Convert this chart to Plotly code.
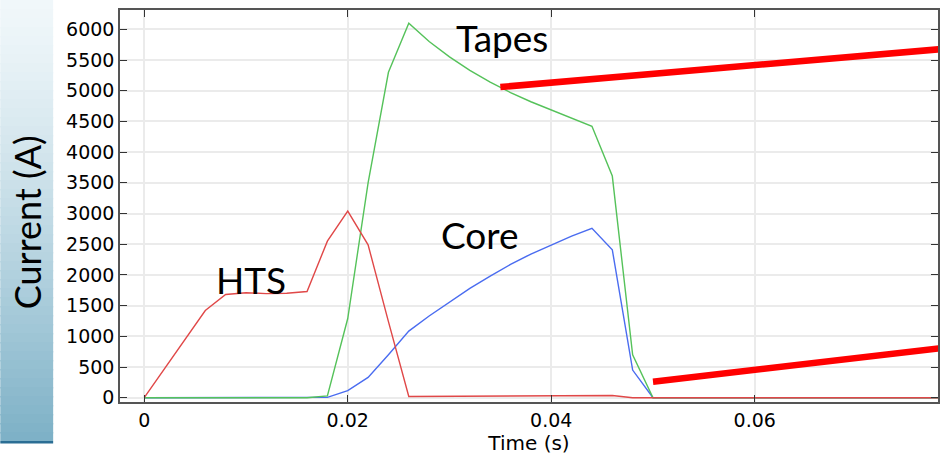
import plotly.graph_objects as go

# ---- data ----
hts_t = [0, 0.006, 0.008, 0.010, 0.012, 0.014, 0.016, 0.018, 0.020, 0.022, 0.024, 0.026, 0.046, 0.048, 0.080]
hts_i = [0, 1420, 1680, 1710, 1695, 1700, 1730, 2550, 3040, 2490, 1240, 20, 35, 0, 0]

tapes_t = [0, 0.016, 0.018, 0.020, 0.022, 0.024, 0.026, 0.028, 0.030, 0.032, 0.034, 0.036, 0.038,
           0.040, 0.042, 0.044, 0.046, 0.048, 0.050, 0.080]
tapes_i = [0, 0, 30, 1290, 3500, 5300, 6100, 5800, 5550, 5330, 5140, 4970, 4820,
           4690, 4560, 4420, 3610, 700, 0, 0]

core_t = [0, 0.016, 0.018, 0.020, 0.022, 0.024, 0.026, 0.028, 0.030, 0.032, 0.034, 0.036, 0.038,
          0.040, 0.042, 0.044, 0.046, 0.048, 0.050, 0.080]
core_i = [0, 0, 5, 115, 330, 700, 1085, 1330, 1560, 1780, 1980, 2170, 2340,
          2490, 2630, 2760, 2410, 450, 0, 0]

x_ticks = [0, 0.02, 0.04, 0.06]
x_tick_labels = ["0", "0.02", "0.04", "0.06"]
y_ticks = list(range(0, 6001, 500))

labels = [("Tapes", 0.0352, 5860), ("Core", 0.0330, 2650), ("HTS", 0.0105, 1930)]
# red pointer lines (t0, i0, t1, i1)
pointers = [(0.0350, 5060, 0.0785, 5680), (0.0500, 260, 0.0785, 810)]

# ---- figure ----
W, H = 940, 457
ML, MR, MT, MB = 120, 0, 10, 55
PW, PH = W - ML - MR, H - MT - MB

def px_x(p):
    return (p - ML) / PW

def px_y(p):
    return (H - MB - p) / PH

fig = go.Figure()
fig.add_trace(go.Scatter(x=core_t, y=core_i, mode="lines", line=dict(color="#4a6cf0", width=1.4),
                         name="Core", showlegend=False))
fig.add_trace(go.Scatter(x=tapes_t, y=tapes_i, mode="lines", line=dict(color="#55c25a", width=1.4),
                         name="Tapes", showlegend=False))
fig.add_trace(go.Scatter(x=hts_t, y=hts_i, mode="lines", line=dict(color="#e04848", width=1.4),
                         name="HTS", showlegend=False))

shapes = []
# left gradient panel
n = 49
top = (240, 247, 250)
bot = (124, 176, 198)
panel_bottom = 441
for k in range(n):
    y0 = panel_bottom * k / n
    y1 = min(panel_bottom, panel_bottom * (k + 1) / n + 1.5)
    f = ((k + 0.5) / n) ** 1.3
    c = tuple(int(round(top[j] + (bot[j] - top[j]) * f)) for j in range(3))
    shapes.append(dict(type="rect", xref="paper", yref="paper",
                       x0=px_x(0), x1=px_x(53), y0=px_y(y1), y1=px_y(y0),
                       fillcolor="rgb(%d,%d,%d)" % c, line=dict(width=0), layer="below"))
shapes.append(dict(type="rect", xref="paper", yref="paper",
                   x0=px_x(0), x1=px_x(53), y0=px_y(443.5), y1=px_y(441),
                   fillcolor="#2b6e94", line=dict(width=0), layer="below"))

for (a, b, c, d) in pointers:
    shapes.append(dict(type="line", xref="x", yref="y", x0=a, y0=b, x1=c, y1=d,
                       line=dict(color="#ff0000", width=6.5)))

annotations = []
for (txt, tx, ty) in labels:
    annotations.append(dict(x=tx, y=ty, xref="x", yref="y", text=txt, showarrow=False,
                            font=dict(family="Lato", size=37, color="black"),
                            xanchor="center", yanchor="middle"))
annotations.append(dict(x=px_x(27), y=px_y(222), xref="paper", yref="paper", text="Current (A)",
                        showarrow=False, textangle=-90,
                        font=dict(family="Lato", size=36, color="black"),
                        xanchor="center", yanchor="middle"))

x_lo = (ML - 144.3) / 10200
x_hi = (W - MR - 144.3) / 10200
y_scale = 6000 / (397.7 - 29.3)
y_hi = (397.7 - MT) * y_scale
y_lo = (397.7 - (H - MB)) * y_scale

axis_common = dict(showline=True, linecolor="#555555", linewidth=1.5, mirror="ticks",
                   ticks="inside", ticklen=7, tickcolor="#333333", tickwidth=1.3,
                   showgrid=True, gridcolor="#ebebeb", gridwidth=1.6, zeroline=False,
                   tickfont=dict(family="DejaVu Sans", size=19, color="black"))

fig.update_layout(
    width=W, height=H,
    margin=dict(l=ML, r=MR, t=MT, b=MB),
    paper_bgcolor="white", plot_bgcolor="white",
    xaxis=dict(range=[x_lo, x_hi], tickvals=x_ticks, ticktext=x_tick_labels,
               title=dict(text="Time (s)", font=dict(family="DejaVu Sans", size=20, color="black"),
                          standoff=2),
               **axis_common),
    yaxis=dict(range=[y_lo, y_hi], tickvals=y_ticks, **axis_common),
    shapes=shapes, annotations=annotations,
)

fig.write_html("out.html")
